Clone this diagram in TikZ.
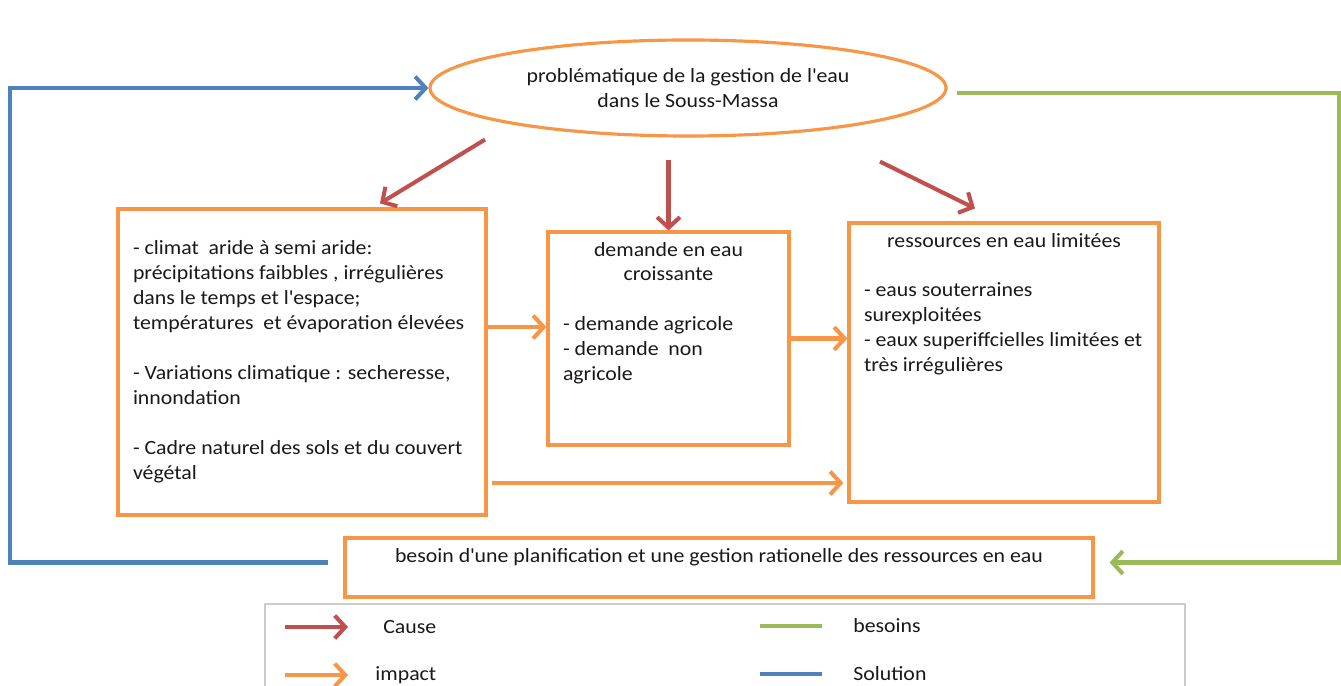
\documentclass[tikz,border=0pt]{standalone}
\usepackage{fontspec}
\setmainfont{Carlito}[FakeStretch=1.08]
\usepackage{xcolor}
\usepackage{tikz}
\usetikzlibrary{shapes.geometric,arrows.meta}

\definecolor{orangeO}{RGB}{247,150,70}
\definecolor{rougeC}{RGB}{192,80,77}
\definecolor{vertB}{RGB}{155,187,89}
\definecolor{bleuS}{RGB}{79,129,189}
\newcommand{\apo}{\textquotesingle}

\tikzset{
  boite/.style={draw=orangeO, line width=1.8pt, inner xsep=0.3cm, inner ysep=0.2cm},
  cause/.style={draw=rougeC, line width=2.3pt, -{Straight Barb[length=6pt,width=13pt]}},
  impact/.style={draw=orangeO, line width=2.3pt, -{Straight Barb[length=6pt,width=13pt]}},
  besoin/.style={draw=vertB, line width=2.3pt},
  solution/.style={draw=bleuS, line width=2.3pt},
  legende/.style={anchor=west, inner sep=0pt}
}

\begin{document}
\begin{tikzpicture}[font=\fontsize{11.5}{14.2}\selectfont, text=black!90]
\useasboundingbox (0,0) rectangle (26.82,-13.72);

% probleme central
\node[ellipse, draw=orangeO, line width=1.8pt, inner sep=0pt, minimum width=10.32cm, minimum height=1.92cm, align=center]
  (prob) at (13.76,-1.76) {probl\'ematique de la gestion de l\apo eau\\ dans le Souss-Massa};

% les trois boites
\node[boite] (clim) at (6.04,-7.24) {\parbox[c][5.72cm][c]{6.76cm}{\raggedright
 - climat~ aride \`a semi aride:\\
 pr\'ecipitations faibbles , irr\'eguli\`eres\\
 dans le temps et l\apo espace;\\
 temp\'eratures~ et \'evaporation \'elev\'ees\\[\baselineskip]
 - Variations climatique : secheresse,\\
 innondation\\[\baselineskip]
 - Cadre naturel des sols et du couvert\\
 v\'eg\'etal}};

\node[boite] (dem) at (13.37,-6.77) {\parbox[c][3.86cm][t]{4.22cm}{%
 {\centering demande en eau\\ croissante\par}
 \vspace{\baselineskip}\raggedright
 - demande agricole\\
 - demande~ non\\
 agricole}};

\node[boite] (ress) at (20.08,-7.25) {\parbox[c][5.18cm][t]{5.6cm}{%
 {\centering ressources en eau limit\'ees\par}
 \vspace{\baselineskip}\raggedright
 - eaus souterraines\\
 surexploit\'ees\\
 - eaux superiffcielles limit\'ees et\\
 tr\`es irr\'eguli\`eres}};

\node[boite] (plan) at (14.38,-11.35) {\parbox[c][0.78cm][t]{14.36cm}{\centering
 besoin d\apo une planification et une gestion rationelle des ressources en eau}};

% causes
\draw[cause] ([xshift=-4.06cm,yshift=-0.04cm]prob.south) -- ([xshift=1.56cm,yshift=0.08cm]clim.north);
\draw[cause] ([yshift=-0.44cm]prob.south -| dem.north) -- (dem.north);
\draw[cause] ([xshift=3.84cm,yshift=-0.48cm]prob.south) -- ([xshift=-0.58cm,yshift=0.26cm]ress.north);

% impacts
\draw[impact] ([yshift=0.7cm]clim.east) -- ([yshift=0.7cm]clim.east -| dem.west);
\draw[impact] (dem.east) -- (dem.east -| ress.west);
\draw[impact] ([xshift=0.08cm,yshift=-2.42cm]clim.east) -- ([xshift=-0.08cm,yshift=-2.42cm]clim.east -| ress.west);

% solution et besoins
\draw[solution, -{Straight Barb[length=6pt,width=13pt]}] ([xshift=-0.3cm,yshift=0.1cm]plan.west) -- ++(-6.36,0) |- (prob.west);
\draw[besoin, -{Straight Barb[length=6pt,width=13pt]}] ([xshift=0.18cm,yshift=-0.1cm]prob.east) -- ++(7.64,0) |- ([xshift=0.3cm,yshift=0.1cm]plan.east);

% legende
\draw[draw=black!20, line width=0.8pt] (5.3,-12.08) rectangle (23.7,-14.3);
\node[legende] (lcause) at (7.66,-12.54) {Cause};
\node[legende] (limpact) at (7.5,-13.5) {impact};
\node[legende] (lbesoin) at (17.06,-12.52) {besoins};
\node[legende] (lsol) at (17.06,-13.48) {Solution};
\draw[cause] ([xshift=-1.96cm]lcause.west) -- ([xshift=-0.7cm]lcause.west);
\draw[impact] ([xshift=-1.8cm]limpact.west) -- ([xshift=-0.54cm]limpact.west);
\draw[besoin] ([xshift=-1.86cm]lbesoin.west) -- ([xshift=-0.62cm]lbesoin.west);
\draw[solution] ([xshift=-1.86cm]lsol.west) -- ([xshift=-0.62cm]lsol.west);
\end{tikzpicture}
\end{document}
